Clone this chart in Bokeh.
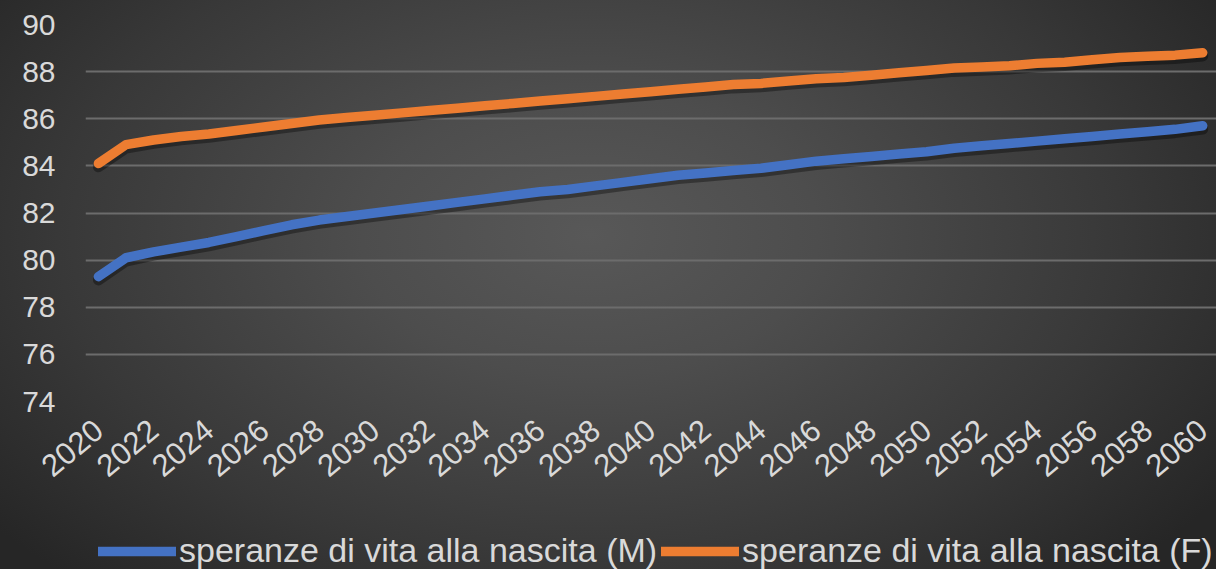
from bokeh.plotting import figure
from bokeh.layouts import column
from bokeh.models import ColumnDataSource, FixedTicker, Legend, LegendItem, Range1d
from bokeh.transform import dodge
from bokeh.embed import file_html
from bokeh.resources import INLINE

years = list(range(2020, 2061))
male = [79.3, 80.1, 80.35, 80.55, 80.75, 81.0, 81.25, 81.5, 81.7, 81.85,
        82.0, 82.15, 82.3, 82.45, 82.6, 82.75, 82.9, 83.0, 83.15, 83.3,
        83.45, 83.6, 83.7, 83.8, 83.9, 84.05, 84.2, 84.3, 84.4, 84.5,
        84.6, 84.75, 84.85, 84.95, 85.05, 85.15, 85.25, 85.35, 85.45, 85.55,
        85.7]
female = [84.1, 84.9, 85.1, 85.25, 85.35, 85.5, 85.65, 85.8, 85.95, 86.05,
          86.15, 86.25, 86.35, 86.45, 86.55, 86.65, 86.75, 86.85, 86.95, 87.05,
          87.15, 87.25, 87.35, 87.45, 87.5, 87.6, 87.7, 87.75, 87.85, 87.95,
          88.05, 88.15, 88.2, 88.25, 88.35, 88.4, 88.5, 88.6, 88.65, 88.7,
          88.8]
x_ticks = list(range(2020, 2061, 2))
y_ticks = [74, 76, 78, 80, 82, 84, 86, 88, 90]
labels = ["speranze di vita alla nascita (M)", "speranze di vita alla nascita (F)"]

src = ColumnDataSource(dict(year=years, m=male, f=female))

FONT = "Liberation Sans"
TXT = "#d9d9d9"
BLUE = "#4472C4"
ORANGE = "#ED7D31"

def clear(fig):
    fig.background_fill_color = None
    fig.border_fill_color = None
    fig.outline_line_color = None

p = figure(frame_width=1131, frame_height=377,
           x_range=Range1d(2019.532, 2060.5), y_range=Range1d(74, 90),
           output_backend="svg", toolbar_location=None,
           min_border_left=85, min_border_right=0, min_border_top=24,
           min_border_bottom=0)
clear(p)

# shadows
for col in ["m", "f"]:
    p.line(x="year", y=dodge(col, -0.14, range=p.y_range), source=src,
           line_color="black", line_alpha=0.35, line_width=11,
           line_cap="round", line_join="round")

p.line(x="year", y="m", source=src, line_color=BLUE, line_width=9.5,
       line_cap="round", line_join="round")
p.line(x="year", y="f", source=src, line_color=ORANGE, line_width=9.5,
       line_cap="round", line_join="round")

p.xaxis.ticker = FixedTicker(ticks=x_ticks)
p.yaxis.ticker = FixedTicker(ticks=y_ticks)
p.ygrid.ticker = FixedTicker(ticks=y_ticks)
p.xgrid.grid_line_color = None
p.ygrid.grid_line_color = "#6c6c6c"
p.ygrid.grid_line_width = 2

for ax in (p.xaxis[0], p.yaxis[0]):
    ax.axis_line_color = None
    ax.major_tick_line_color = None
    ax.minor_tick_line_color = None
    ax.major_tick_out = 0
    ax.major_label_text_font = FONT
    ax.major_label_text_color = TXT

p.yaxis.major_label_text_font_size = "30px"
p.xaxis.major_label_text_font_size = "31px"
p.xaxis.major_label_orientation = 0.7
p.xaxis.major_label_standoff = 24
p.yaxis.major_label_standoff = 30

# legend strip below the chart (same series, legend only)
q = figure(frame_width=1216, frame_height=80,
           x_range=Range1d(0, 1), y_range=Range1d(0, 1),
           x_axis_location=None, y_axis_location=None,
           output_backend="svg", toolbar_location=None,
           min_border_left=0, min_border_right=0, min_border_top=0,
           min_border_bottom=0)
clear(q)
q.grid.grid_line_color = None
q_m = q.line(x="year", y="m", source=src, line_color=BLUE, line_width=9.5, line_cap="round")
q_f = q.line(x="year", y="f", source=src, line_color=ORANGE, line_width=9.5, line_cap="round")

legend = Legend(items=[LegendItem(label=labels[0], renderers=[q_m]),
                       LegendItem(label=labels[1], renderers=[q_f])],
                orientation="horizontal", location=(98, -1),
                background_fill_alpha=0, border_line_alpha=0,
                label_text_font=FONT, label_text_font_size="34px",
                label_text_color=TXT, glyph_width=78, glyph_height=30,
                label_standoff=3, spacing=4, padding=0, margin=0)
q.add_layout(legend)

layout = column(p, q, spacing=0,
                styles={"background": "radial-gradient(ellipse 760px 470px at 590px 235px, #585858 0%, #4d4d4d 30%, #383838 70%, #262626 100%)"})

open("out.html", "w").write(file_html(layout, INLINE))
